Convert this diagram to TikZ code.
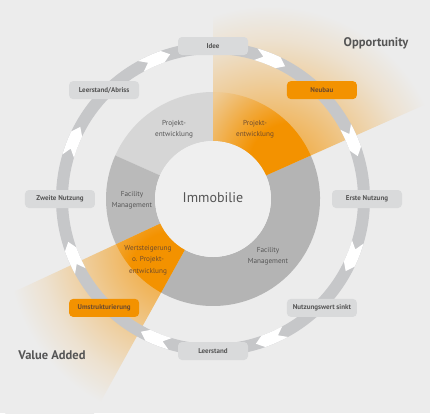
\documentclass[tikz,border=0pt]{standalone}
\usepackage{fontspec}
\setmainfont{PT Sans}

\definecolor{bgray}{HTML}{ECECEC}
\definecolor{hubgray}{HTML}{EFEFEF}
\definecolor{ringgray}{HTML}{C6C7C9}
\definecolor{boxgray}{HTML}{D9DADB}
\definecolor{segA}{HTML}{D6D6D6}
\definecolor{segB}{HTML}{BABABA}
\definecolor{segC}{HTML}{B4B4B4}
\definecolor{immoorange}{HTML}{F39200}
\definecolor{txtgray}{HTML}{555555}
\definecolor{txtbrown}{HTML}{6E4B2E}

\pgfdeclareradialshading{wedgefade}{\pgfpointorigin}{color(0bp)=(immoorange!85!bgray); color(5.5bp)=(immoorange!60!bgray); color(10.5bp)=(immoorange!32!bgray); color(14.5bp)=(immoorange!12!bgray); color(18bp)=(bgray); color(50bp)=(bgray)}
\pgfdeclareradialshading{segfade}{\pgfpointorigin}{color(0bp)=(immoorange); color(8bp)=(immoorange); color(20bp)=(immoorange!35!bgray); color(50bp)=(immoorange!35!bgray)}

\begin{document}
\begin{tikzpicture}[x=1pt,y=1pt,
    stage/.style={fill=boxgray,rounded corners=4pt,minimum width=70pt,minimum height=18pt,inner sep=2pt,font=\fontsize{7}{8}\selectfont\bfseries,text=txtgray},
    hotstage/.style={stage,fill=immoorange,text=txtbrown},
    seglabel/.style={align=center,font=\fontsize{7.2}{11.5}\selectfont,text=txtgray},
    seglabelhot/.style={seglabel,text=txtbrown},
    corner/.style={font=\fontsize{12.5}{14}\selectfont\bfseries,text=txtgray}]
    % background
    \fill[bgray] (-213,-214) rectangle (217,199);
    \useasboundingbox (-213,-214) rectangle (217,199);

    % Opportunity wedge
    \begin{scope}
      \clip (0,0) -- (24:330) -- (90:330) -- cycle;
      \shade[shading=wedgefade] (20:60) circle (240pt);
    \end{scope}
    % Value Added wedge
    \begin{scope}
      \clip (0,0) -- (205:330) -- (241:330) -- cycle;
      \shade[shading=wedgefade] (237:60) circle (240pt);
    \end{scope}

    % inner ring
    \foreach \a/\b/\c in {90/156/segA,156/205/segB,241/384/segC}
      \fill[\c] (\a:58) arc[start angle=\a,end angle=\b,radius=58pt]
                -- (\b:107) arc[start angle=\b,end angle=\a,radius=107pt] -- cycle;
    \foreach \a/\b/\m in {24/90/24,205/241/241}{
      \begin{scope}
        \clip (\a:58) arc[start angle=\a,end angle=\b,radius=58pt]
              -- (\b:107) arc[start angle=\b,end angle=\a,radius=107pt] -- cycle;
        \shade[shading=segfade] (\m:85) circle (130pt);
      \end{scope}}
    \fill[hubgray] (0,0) circle (58pt);
    \node[font=\fontsize{14}{16}\selectfont,text=txtgray] (immo) at (0,1) {Immobilie};

    % cycle
    \draw[ringgray,line width=12pt] (0,0) circle (151pt);
    \foreach \a in {67.5,22.5,...,-247.5}
      \fill[white] ({\a+6}:157) -- ({\a+3}:151) -- ({\a+6}:145)
                   arc[start angle=\a+6,end angle=\a-3,radius=145pt]
                   -- ({\a-6}:151) -- ({\a-3}:157)
                   arc[start angle=\a-3,end angle=\a+6,radius=157pt] -- cycle;

    \node[stage] (idee) at (90:153) {Idee};
    \node[hotstage] (neubau) at (45:154) {Neubau};
    \node[stage] (erste) at (0:154) {Erste Nutzung};
    \node[stage] (sinkt) at (-45:154) {Nutzungswert sinkt};
    \node[stage] (leer) at (-90:152) {Leerstand};
    \node[hotstage] (umstr) at (-135:154) {Umstrukturierung};
    \node[stage] (zweite) at (180:153) {Zweite Nutzung};
    \node[stage] (abriss) at (135:154) {Leerstand/Abriss};

    % segment labels
    \node[seglabel] (pe1) at (-39,70) {Projekt-\\entwicklung};
    \node[seglabelhot] (pe2) at (42,70) {Projekt-\\entwicklung};
    \node[seglabel] (fm1) at (-81,-1) {Facility\\Management};
    \node[seglabel] (fm2) at (55,-57) {Facility\\Management};
    \node[seglabelhot] (ws) at (-65,-61) {Wertsteigerung\\o. Projekt-\\entwicklung};

    \node[corner] (opp) at (163,156) {Opportunity};
    \node[corner] (va) at (-161,-156) {Value Added};
\end{tikzpicture}
\end{document}
